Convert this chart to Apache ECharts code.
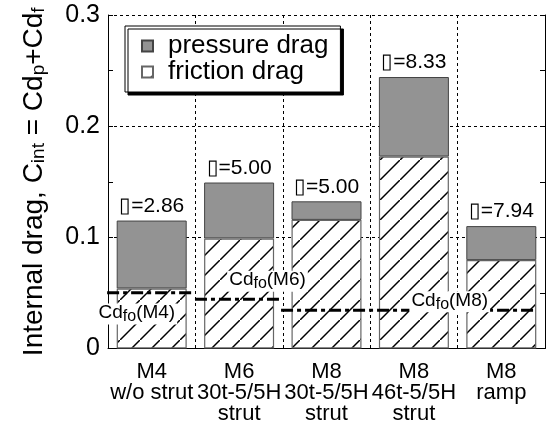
<!DOCTYPE html>
<html>
<head>
<meta charset="utf-8">
<script src="https://cdn.jsdelivr.net/npm/echarts@6/dist/echarts.min.js"></script>
<style>body{margin:0;background:#fff}</style>
</head>
<body>
<div id="main" style="width:551px;height:425px"></div>
<script type="text/javascript">
// categories and data
var categories = ['M4\nw/o strut', 'M6\n30t-5/5H\nstrut', 'M8\n30t-5/5H\nstrut', 'M8\n46t-5/5H\nstrut', 'M8\nramp'];
var frictionDrag = [0.0540, 0.0990, 0.1157, 0.1727, 0.0795];
var pressureDrag = [0.0611, 0.0503, 0.0167, 0.0715, 0.0306];
var barLabels = ['\u25AF=2.86', '\u25AF=5.00', '\u25AF=5.00', '\u25AF=8.33', '\u25AF=7.94'];
// Cd_fo reference levels: [xStart, xEnd, value] on a 0..4 category index scale
var cdfoNames = ['M4', 'M6', 'M8'];
var cdfoSegments = [[-0.51, 0.47, 0.0501], [0.495, 1.48, 0.0443], [1.48, 4.40, 0.0344]];
var cdfoLabelPos = [[-0.17, 0.031], [1.325, 0.0605], [3.41, 0.042]];
var yTicks = [0, 0.1, 0.2, 0.3];

var FONT = '"Liberation Sans", Arial, Helvetica, sans-serif';

// hatch pattern for friction drag
var hatch = document.createElement('canvas');
hatch.width = 20; hatch.height = 20;
var hc = hatch.getContext('2d');
hc.fillStyle = '#fff';
hc.fillRect(0, 0, 20, 20);
hc.strokeStyle = '#000';
hc.lineWidth = 1.5;
hc.beginPath();
hc.moveTo(-2, 22); hc.lineTo(22, -2);
hc.stroke();

var myChart = echarts.init(document.getElementById('main'));

var series = [
  {
    name: 'friction drag', type: 'bar', stack: 'drag', barWidth: 70,
    data: frictionDrag,
    itemStyle: { color: { image: hatch, repeat: 'repeat' }, borderColor: '#666', borderWidth: 1.2 }
  },
  {
    name: 'pressure drag', type: 'bar', stack: 'drag', barWidth: 70,
    data: pressureDrag,
    itemStyle: { color: '#939393', borderColor: '#444', borderWidth: 1 },
    label: {
      show: true, position: 'top', distance: 4,
      formatter: function (p) { return barLabels[p.dataIndex]; },
      fontFamily: FONT, fontSize: 21, color: '#000'
    }
  }
];

cdfoSegments.forEach(function (s, i) {
  series.push({
    name: 'cdfo' + i, type: 'line', xAxisIndex: 1, yAxisIndex: 0,
    data: [[s[0], s[2]], [s[1], s[2]]],
    symbol: 'none', silent: true, z: 5,
    lineStyle: { color: '#000', width: 3, type: [12, 4, 4, 4] }
  });
});

series.push({
  name: 'cdfoLabels', type: 'scatter', xAxisIndex: 1, yAxisIndex: 0,
  data: cdfoLabelPos, symbolSize: 1, z: 10, silent: true,
  itemStyle: { color: 'rgba(0,0,0,0)', opacity: 1 },
  label: {
    show: true, position: 'inside', color: '#000', textBorderWidth: 0, opacity: 1,
    formatter: function (p) { return '{a|Cd}{b|fo}{a|(' + cdfoNames[p.dataIndex] + ')}'; },
    backgroundColor: '#fff', padding: [0, 2, 0, 2],
    rich: {
      a: { fontFamily: FONT, fontSize: 19, color: '#000', textBorderWidth: 0, lineHeight: 21, verticalAlign: 'top' },
      b: { fontFamily: FONT, fontSize: 16, color: '#000', textBorderWidth: 0, lineHeight: 16, verticalAlign: 'bottom', padding: [11, 0, 0, 0] }
    }
  }
});

var option = {
  backgroundColor: '#fff',
  animation: false,
  grid: { left: 108, right: 6, top: 15, bottom: 73 },
  legend: {
    left: 125, top: 26, orient: 'vertical',
    data: ['pressure drag', 'friction drag'],
    icon: 'rect',
    itemWidth: 11, itemHeight: 11, itemGap: 0,
    padding: [7, 12, 7, 16],
    backgroundColor: '#fff', borderColor: '#000', borderWidth: 1,
    shadowColor: '#000', shadowBlur: 0, shadowOffsetX: 3, shadowOffsetY: 3,
    textStyle: { fontFamily: FONT, fontSize: 26, color: '#000', lineHeight: 24, padding: [0, 0, 0, 10] }
  },
  xAxis: [
    {
      type: 'category', data: categories,
      axisLine: { lineStyle: { color: '#000', width: 1 } },
      axisTick: { show: false },
      axisLabel: { fontFamily: FONT, fontSize: 22, color: '#000', lineHeight: 21, margin: 13, interval: 0 },
      splitLine: { show: true, interval: 0, lineStyle: { color: '#000', type: [3, 3], width: 1 } }
    },
    { type: 'value', min: -0.5, max: 4.5, show: false }
  ],
  yAxis: [
    {
      type: 'value', min: 0, max: 0.3, interval: 0.1,
      name: 'Internal drag, C{s|int} = Cd{s|p}+Cd{s|f}',
      nameLocation: 'middle', nameGap: 60,
      nameTextStyle: {
        fontFamily: FONT, fontSize: 28, color: '#000',
        rich: {
          s: { fontFamily: FONT, fontSize: 19, color: '#000', verticalAlign: 'bottom', lineHeight: 19, padding: [12, 0, 0, 0] }
        }
      },
      axisLine: { show: true, onZero: false, lineStyle: { color: '#000' } },
      axisTick: { show: true, inside: true, length: 5, lineStyle: { color: '#000' } },
      minorTick: { show: true, splitNumber: 2, length: 5, lineStyle: { color: '#000' } },
      axisLabel: {
        fontFamily: FONT, fontSize: 25, color: '#000', margin: 8,
        formatter: function (v) { return yTicks.indexOf(v) === 0 ? '0' : v.toFixed(1); }
      },
      splitLine: { show: true, lineStyle: { color: '#000', type: [3, 3], width: 1 } }
    },
    {
      type: 'value', min: 0, max: 0.3, interval: 0.1, position: 'right',
      axisLine: { show: true, onZero: false, lineStyle: { color: '#000' } },
      axisTick: { show: true, inside: true, length: 5, lineStyle: { color: '#000' } },
      minorTick: { show: true, splitNumber: 2, length: 5, lineStyle: { color: '#000' } },
      axisLabel: { show: false },
      splitLine: { show: false }
    }
  ],
  series: series
};

myChart.setOption(option);
</script>
</body>
</html>
